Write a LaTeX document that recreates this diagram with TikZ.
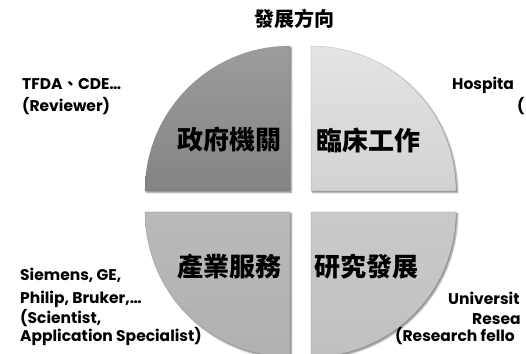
\documentclass[tikz,border=0pt]{standalone}
\usepackage{fontspec}
\setmainfont{Poppins}
\newfontfamily\cjk{Noto Sans CJK TC}
\usetikzlibrary{shadows.blur}
\begin{document}
\begin{tikzpicture}[x=1pt,y=1pt,
  quad/.style={draw=black, draw opacity=0.12, line width=0.6pt, blur shadow={shadow xshift=1.5pt,shadow yshift=-1.5pt,shadow blur steps=4,shadow blur radius=1.5pt,shadow opacity=45}},
  qlabel/.style={font=\cjk\bfseries\fontsize{26}{30}\selectfont, inner sep=0pt},
  big/.style={font=\bfseries\fontsize{15.5}{18}\selectfont, anchor=base west, inner sep=0pt}]
\useasboundingbox (0,0) rectangle (526,353);
\clip (0,0) rectangle (526,353);
% quadrants
\coordinate (ctl) at (290,162);
\coordinate (ctr) at (311,162);
\coordinate (cbl) at (290,141);
\coordinate (cbr) at (311,141);
\path[quad, top color={rgb,255:red,156;green,156;blue,156}, bottom color={rgb,255:red,132;green,132;blue,132}]
  (ctl) -- ++(-145,0) arc[start angle=180,end angle=90,radius=145] -- cycle;
\path[quad, top color={rgb,255:red,228;green,228;blue,228}, bottom color={rgb,255:red,210;green,210;blue,210}]
  (ctr) -- ++(0,145) arc[start angle=90,end angle=0,radius=145] -- cycle;
\path[quad, top color={rgb,255:red,186;green,186;blue,186}, bottom color={rgb,255:red,176;green,176;blue,176}]
  (cbl) -- ++(-145,0) arc[start angle=180,end angle=270,radius=145] -- cycle;
\path[quad, top color={rgb,255:red,202;green,202;blue,202}, bottom color={rgb,255:red,192;green,192;blue,192}]
  (cbr) -- ++(145,0) arc[start angle=0,end angle=-90,radius=145] -- cycle;
% titles
\node[font=\cjk\bfseries\fontsize{20}{23}\selectfont, inner sep=0pt] (title) at (294,334) {發展方向};
\node[qlabel] (gov) at (229,213) {政府機關};
\node[qlabel] (clin) at (368,213) {臨床工作};
\node[qlabel] (ind) at (229,86) {產業服務};
\node[qlabel] (rd) at (366,86) {研究發展};
% side labels
\node[big] (tfda) at (22,263) {TFDA{\cjk 、}CDE…};
\node[big] (rev) at (22,241) {(Reviewer)};
\node[big] (hosp) at (452,263) {Hospita};
\node[big] (hosp2) at (517,241) {(};
\node[big] (sie) at (20,73) {Siemens, GE,};
\node[big] (phi) at (20,50) {Philip, Bruker,…};
\node[big] (sci) at (20,30) {(Scientist,};
\node[big] (app) at (20,12) {Application Specialist)};
\node[big] (uni) at (448,49) {Universit};
\node[big] (res) at (472,29) {Resea};
\node[big] (rf) at (395,12) {(Research fello};
\end{tikzpicture}
\end{document}
